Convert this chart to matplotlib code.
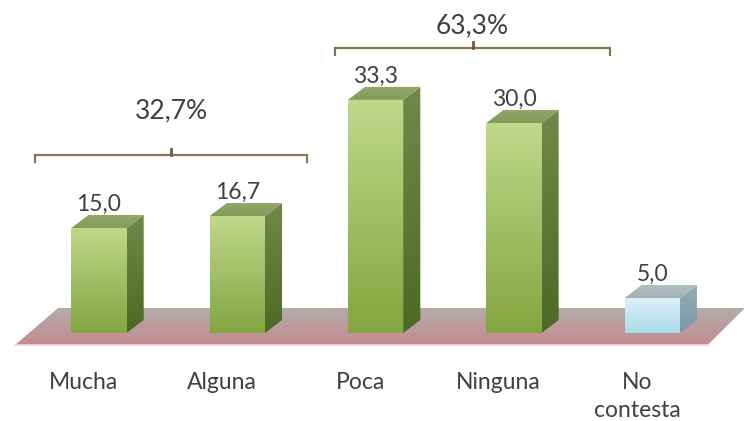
import numpy as np
import matplotlib
matplotlib.use("Agg")
import matplotlib.pyplot as plt
from matplotlib.patches import Polygon
from matplotlib.colors import LinearSegmentedColormap

# ---- data ----
categories = ["Mucha", "Alguna", "Poca", "Ninguna", "No\ncontesta"]
values = [15.0, 16.7, 33.3, 30.0, 5.0]
value_labels = ["15,0", "16,7", "33,3", "30,0", "5,0"]
group_members = [(0, 1), (2, 3)]
group_labels = ["32,7%", "63,3%"]

plt.rcParams['font.family'] = ['Lato', 'DejaVu Sans']

fig = plt.figure(figsize=(7.47, 4.21), dpi=100)
ax = fig.add_axes([0, 0, 1, 1])
ax.set_xlim(-0.716, 4.685)
ax.set_ylim(-12.57, 47.57)
ax.axis('off')

TXT = '#404040'
W = 0.40      # bar width (category units)
DX = 0.123    # depth in x
DY = 1.86     # depth in y

def grad_fill(patch, c_top, c_bot, extent, zorder=2):
    cmap = LinearSegmentedColormap.from_list('g', [c_bot, c_top])
    arr = np.linspace(0, 1, 256).reshape(-1, 1)
    im = ax.imshow(arr, cmap=cmap, extent=extent, origin='lower',
                   aspect='auto', zorder=zorder, interpolation='bilinear')
    im.set_clip_path(patch)

# ---- floor ----
floor = [(-0.607, -1.71), (4.40, -1.71), (4.67, 3.57), (-0.296, 3.57)]
fp = Polygon(floor, closed=True, facecolor='none', edgecolor='none')
ax.add_patch(fp)
grad_fill(fp, '#b5abac', '#c38b8f', (-0.7, 4.7, -1.71, 3.57), zorder=1)
ax.plot([-0.607, 4.40], [-1.71, -1.71], color='#e8d8d8', lw=1.2, zorder=1.5)

# ---- bars ----
x = np.arange(len(categories))
bars = ax.bar(x, values, width=W, facecolor='none', edgecolor='none', zorder=3)

for i, (b, v) in enumerate(zip(bars, values)):
    blue = (i == len(values) - 1)
    if blue:
        front = ('#dff1f7', '#a9dbe9')
        side = ('#93aeb6', '#7a9aa3')
        top = ('#b4c1c5', '#a3b1b5')
    else:
        front = ('#c0d88b', '#82a640')
        side = ('#71894a', '#4c6a23')
        top = ('#93a86a', '#839a58')
    x0 = b.get_x(); x1 = x0 + b.get_width(); h = b.get_height()
    grad_fill(b, front[0], front[1], (x0, x1, 0, h), zorder=3)
    sp = Polygon([(x1, 0), (x1 + DX, DY), (x1 + DX, h + DY), (x1, h)],
                 closed=True, facecolor='none', edgecolor='none')
    ax.add_patch(sp)
    grad_fill(sp, side[0], side[1], (x1, x1 + DX, 0, h + DY), zorder=3)
    tp = Polygon([(x0, h), (x0 + DX, h + DY), (x1 + DX, h + DY), (x1, h)],
                 closed=True, facecolor='none', edgecolor='none')
    ax.add_patch(tp)
    grad_fill(tp, top[0], top[1], (x0, x1 + DX, h, h + DY), zorder=3)
    ax.text(x[i], h + DY + 1.5, value_labels[i], ha='center', va='center',
            fontsize=16.5, color=TXT, zorder=5)
    ax.text(x[i] - 0.11, -5.5, categories[i], ha='center', va='top',
            fontsize=16.5, color=TXT, linespacing=1.45, zorder=5)

# ---- brackets ----
bracket_geo = [(-0.463, 0.504, 25.4, 31.7), (-0.294, 0.695, 40.7, 43.9)]
for (a, b2), lab, (pl, pr, yb, yl) in zip(group_members, group_labels, bracket_geo):
    xl = x[a] + pl
    xr = x[b2] + pr
    xm = (xl + xr) / 2
    ax.plot([xl, xl, xr, xr], [yb - 1.0, yb, yb, yb - 1.0],
            color='#8a7355', lw=1.6, solid_joinstyle='miter', zorder=4)
    ax.plot([xm, xm], [yb, yb + 0.9], color='#6e5a3e', lw=2.0, zorder=4)
    ax.text(xm, yl, lab, ha='center', va='center', fontsize=19,
            color=TXT, zorder=5)

fig.savefig('out.png', dpi=100)
